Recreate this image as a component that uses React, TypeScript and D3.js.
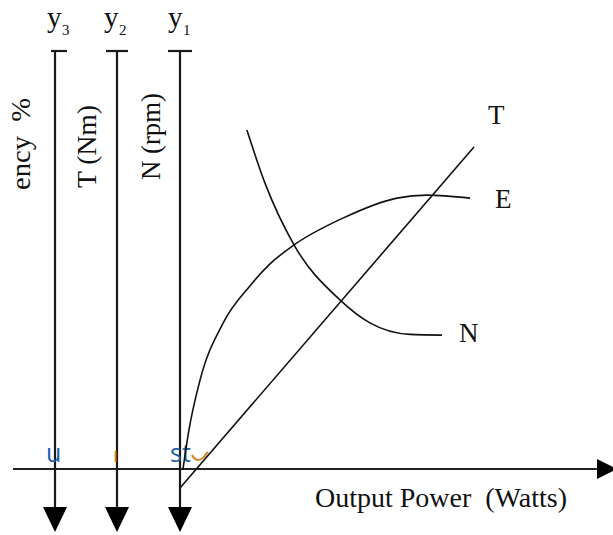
import React from "react";
import * as d3 from "d3";

// ---- data (x: output power, y: common value scale) ----
const torqueX = [0, 98];
const torqueY = [-5.6, 95];

const effX = [1, 2.8, 6.7, 14.4, 23.3, 30, 38, 54.3, 72.3, 82.3, 96.7];
const effY = [0, 10.6, 26.3, 43.1, 54.0, 60.5, 66.1, 74, 79.9, 80.8, 79.9];

const speedX = [22.3, 28.3, 38, 53.3, 63.3, 76.7, 87.3];
const speedY = [100, 84.4, 66.1, 49.9, 43.1, 39.7, 39.5];

const axisNames = ["y", "y", "y"];
const axisSubs = ["3", "2", "1"];
const axisTitles = ["ency  %", "T (Nm)", "N (rpm)"];
const curveLabels = ["T", "E", "N"];
const xTitle = "Output Power  (Watts)";
const strayMarks = ["u", "ı", "st"];

export default function App() {
  const W = 613, H = 535;
  const x = d3.scaleLinear().domain([0, 100]).range([180, 480]);
  const y = d3.scaleLinear().domain([0, 100]).range([469, 130]);

  const lineGen = d3
    .line<[number, number]>()
    .x((d) => x(d[0]))
    .y((d) => y(d[1]));
  const smooth = d3
    .line<[number, number]>()
    .x((d) => x(d[0]))
    .y((d) => y(d[1]))
    .curve(d3.curveMonotoneX);

  const tData = torqueX.map((v, i) => [v, torqueY[i]] as [number, number]);
  const eData = effX.map((v, i) => [v, effY[i]] as [number, number]);
  const nData = speedX.map((v, i) => [v, speedY[i]] as [number, number]);

  const axisXs = [55, 117, 180];
  const capL = [51, 106, 168];
  const capR = [67, 128, 192];
  const topY = 51;
  const bottomY = 508;
  const serif = "'Liberation Serif', 'Times New Roman', serif";

  const titleAnchors = [
    { x: 30, y: 190, len: 92 },
    { x: 96, y: 188, len: 83 },
    { x: 160, y: 180, len: 87 },
  ];
  const labelPos = [
    { x: 488, y: 124 },
    { x: 495, y: 208 },
    { x: 459, y: 342 },
  ];
  const nameX = [47, 104, 168];
  const markPos = [46, 113, 170];

  return (
    <svg
      width={W}
      height={H}
      style={{ position: "absolute", left: 0, top: 0, display: "block", background: "#fff" }}
    >
      {/* horizontal axis */}
      <line x1={13} x2={600} y1={469} y2={469} stroke="#222" strokeWidth={2} />
      <path d="M597,459 L617,469 L597,479 Z" fill="#000" />

      {/* vertical axes */}
      {axisXs.map((ax, i) => (
        <g key={i}>
          <line x1={ax} x2={ax} y1={topY} y2={bottomY} stroke="#1a1a1a" strokeWidth={2.2} />
          <line x1={capL[i]} x2={capR[i]} y1={topY} y2={topY} stroke="#1a1a1a" strokeWidth={2.2} />
          <path
            d={`M${ax - 12},${507} L${ax + 12},${507} L${ax},${532} Z`}
            fill="#000"
          />
          <text x={nameX[i]} y={27} fontFamily={serif} fontSize={29} fill="#111">
            {axisNames[i]}
          </text>
          <text x={nameX[i] + 15} y={35} fontFamily={serif} fontSize={15} fill="#111">
            {axisSubs[i]}
          </text>
          <text
            transform={`translate(${titleAnchors[i].x},${titleAnchors[i].y}) rotate(-90)`}
            fontFamily={serif}
            fontSize={27}
            fill="#111"
            textLength={titleAnchors[i].len}
            lengthAdjust="spacingAndGlyphs"
            style={{ whiteSpace: "pre" }}
          >
            {axisTitles[i]}
          </text>
          <text
            x={markPos[i]}
            y={462}
            fontFamily="'Open Sans', sans-serif"
            fontSize={i === 1 ? 20 : 25}
            fill={i === 1 ? "#c8822a" : "#1f5fa8"}
          >
            {strayMarks[i]}
          </text>
        </g>
      ))}
      <path d="M192,455 Q196,463 203,458 L208,452" fill="none" stroke="#d08a2a" strokeWidth={2} />

      {/* curves */}
      <path d={lineGen(tData) || ""} fill="none" stroke="#111" strokeWidth={1.6} />
      <path d={smooth(eData) || ""} fill="none" stroke="#111" strokeWidth={1.6} />
      <path d={smooth(nData) || ""} fill="none" stroke="#111" strokeWidth={1.6} />

      {curveLabels.map((c, i) => (
        <text key={c} x={labelPos[i].x} y={labelPos[i].y} fontFamily={serif} fontSize={27} fill="#111">
          {c}
        </text>
      ))}

      <text
        x={315}
        y={507}
        fontFamily={serif}
        fontSize={27}
        fill="#111"
        textLength={252}
        lengthAdjust="spacingAndGlyphs"
        style={{ whiteSpace: "pre" }}
      >
        {xTitle}
      </text>
    </svg>
  );
}
